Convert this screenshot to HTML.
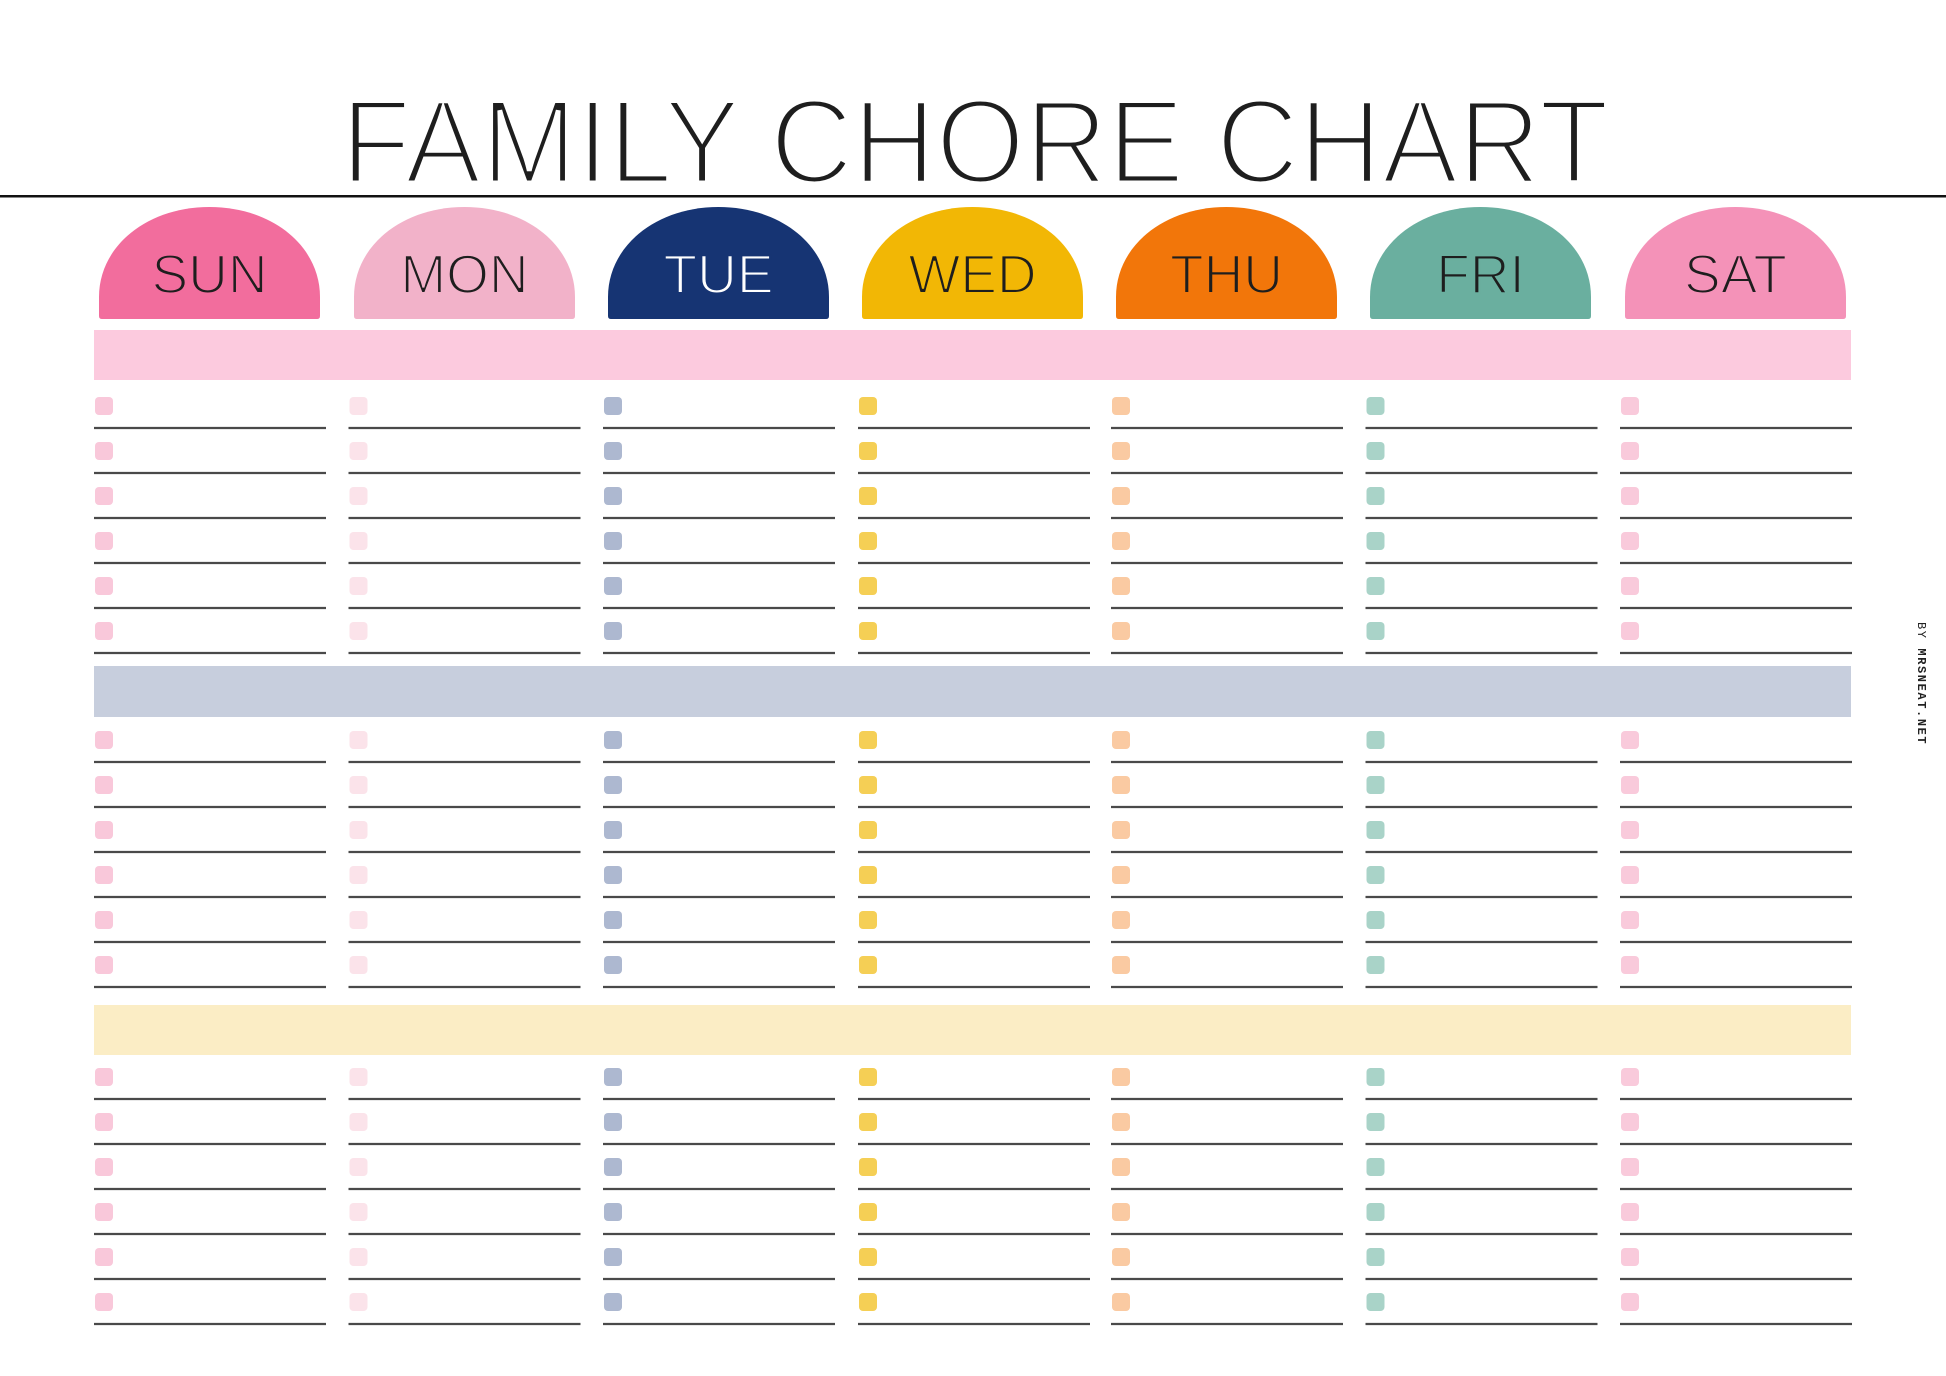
<!DOCTYPE html>
<html><head><meta charset="utf-8"><style>
html,body{margin:0;padding:0;background:#fff;}
svg{display:block;}
.ln{stroke:#4a4a4a;stroke-width:2.2;}
</style></head><body>
<svg width="1946" height="1376" viewBox="0 0 1946 1376" xmlns="http://www.w3.org/2000/svg">
<defs>
<g id="col">
  <g class="ln">
    <line x1="0" x2="232" y1="428" y2="428"/><line x1="0" x2="232" y1="473" y2="473"/><line x1="0" x2="232" y1="518" y2="518"/><line x1="0" x2="232" y1="563" y2="563"/><line x1="0" x2="232" y1="608" y2="608"/><line x1="0" x2="232" y1="653" y2="653"/>
    <line x1="0" x2="232" y1="762" y2="762"/><line x1="0" x2="232" y1="807" y2="807"/><line x1="0" x2="232" y1="852" y2="852"/><line x1="0" x2="232" y1="897" y2="897"/><line x1="0" x2="232" y1="942" y2="942"/><line x1="0" x2="232" y1="987" y2="987"/>
    <line x1="0" x2="232" y1="1099" y2="1099"/><line x1="0" x2="232" y1="1144" y2="1144"/><line x1="0" x2="232" y1="1189" y2="1189"/><line x1="0" x2="232" y1="1234" y2="1234"/><line x1="0" x2="232" y1="1279" y2="1279"/><line x1="0" x2="232" y1="1324" y2="1324"/>
  </g>
  <g fill="currentColor">
    <rect x="1" y="397" width="18" height="18" rx="4"/><rect x="1" y="442" width="18" height="18" rx="4"/><rect x="1" y="487" width="18" height="18" rx="4"/><rect x="1" y="532" width="18" height="18" rx="4"/><rect x="1" y="577" width="18" height="18" rx="4"/><rect x="1" y="622" width="18" height="18" rx="4"/>
    <rect x="1" y="731" width="18" height="18" rx="4"/><rect x="1" y="776" width="18" height="18" rx="4"/><rect x="1" y="821" width="18" height="18" rx="4"/><rect x="1" y="866" width="18" height="18" rx="4"/><rect x="1" y="911" width="18" height="18" rx="4"/><rect x="1" y="956" width="18" height="18" rx="4"/>
    <rect x="1" y="1068" width="18" height="18" rx="4"/><rect x="1" y="1113" width="18" height="18" rx="4"/><rect x="1" y="1158" width="18" height="18" rx="4"/><rect x="1" y="1203" width="18" height="18" rx="4"/><rect x="1" y="1248" width="18" height="18" rx="4"/><rect x="1" y="1293" width="18" height="18" rx="4"/>
  </g>
</g>
<path id="tab" d="M0,316 L0,297 C0,246 48,207 110.5,207 C173,207 221,246 221,297 L221,316 Q221,319 218,319 L3,319 Q0,319 0,316 Z"/>
</defs>

<text x="975" y="183" text-anchor="middle" font-family="Liberation Sans, sans-serif" font-size="120" fill="#1e1e1e" stroke="#fff" stroke-width="5" textLength="1268" lengthAdjust="spacingAndGlyphs">FAMILY CHORE CHART</text>
<rect x="0" y="195" width="1946" height="2.5" fill="#111"/>

<g font-family="Liberation Sans, sans-serif" font-size="55" text-anchor="middle" fill="#1e1e1e" stroke-width="2">
  <use href="#tab" x="99" fill="#f26d9d"/><text x="209.5" y="293" stroke="#f26d9d">SUN</text>
  <use href="#tab" x="354" fill="#f2b2c9"/><text x="464.5" y="293" stroke="#f2b2c9">MON</text>
  <use href="#tab" x="608" fill="#163473"/><text x="718.5" y="293" fill="#fff" stroke="#163473">TUE</text>
  <use href="#tab" x="862" fill="#f2b705"/><text x="972.5" y="293" stroke="#f2b705">WED</text>
  <use href="#tab" x="1116" fill="#f2760a"/><text x="1226.5" y="293" stroke="#f2760a">THU</text>
  <use href="#tab" x="1370" fill="#6aaf9f"/><text x="1480.5" y="293" stroke="#6aaf9f">FRI</text>
  <use href="#tab" x="1625" fill="#f492b8"/><text x="1735.5" y="293" stroke="#f492b8">SAT</text>
</g>

<rect x="94" y="330" width="1757" height="50" fill="#fccade"/>
<rect x="94" y="666" width="1757" height="51" fill="#c7cedd"/>
<rect x="94" y="1005" width="1757" height="50" fill="#fbedc5"/>

<use href="#col" x="94" style="color:#f9c8da"/>
<use href="#col" x="348.5" style="color:#fbe3ea"/>
<use href="#col" x="603" style="color:#adb8d0"/>
<use href="#col" x="858" style="color:#f5cf55"/>
<use href="#col" x="1111" style="color:#facaa2"/>
<use href="#col" x="1365.5" style="color:#a9d3c8"/>
<use href="#col" x="1620" style="color:#f9cadb"/>

<text transform="translate(1918,622) rotate(90)" font-family="Liberation Mono, monospace" font-size="12" fill="#222" letter-spacing="1.6"><tspan>BY </tspan><tspan font-weight="bold">MRSNEAT.NET</tspan></text>
</svg>
</body></html>
